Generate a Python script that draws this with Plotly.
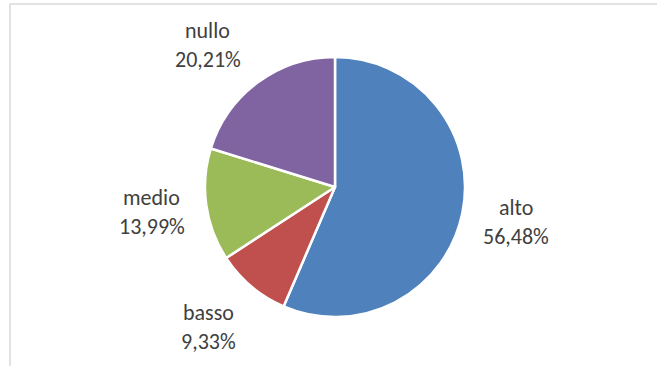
import math
import plotly.graph_objects as go

categories = ["alto", "basso", "medio", "nullo"]
values = [56.48, 9.33, 13.99, 20.21]
pct_labels = ["56,48%", "9,33%", "13,99%", "20,21%"]
colors = ["#4F81BD", "#C0504D", "#9BBB59", "#8064A2"]

W, H = 657, 366
cx, cy, R = 335, 187, 130  # pie centre / radius in pixels
label_dist = 1.44 * R
nudges = [(-2, -3), (-6, -3), (2, -1), (-16, 9)]  # small pixel nudges like Excel best-fit

fig = go.Figure()
fig.add_trace(go.Pie(
    labels=categories,
    values=values,
    sort=False,
    direction="clockwise",
    rotation=0,
    marker=dict(colors=colors, line=dict(color="white", width=2.5)),
    textinfo="none",
    hoverinfo="label+percent",
    showlegend=False,
    domain=dict(x=[(cx - R) / W, (cx + R) / W],
                y=[(H - cy - R) / H, (H - cy + R) / H]),
))

font = dict(family="Calibri, Carlito, Lato, sans-serif", size=22, color="#404040")
total = sum(values)
cum = 0.0
annotations = []
for i, (name, pct, v) in enumerate(zip(categories, pct_labels, values)):
    mid = (cum + v / 2) / total * 2 * math.pi
    cum += v
    sx = cx + label_dist * math.sin(mid) + nudges[i][0]
    sy = cy - label_dist * math.cos(mid) + nudges[i][1]
    for txt, dy in ((name, -14.5), (pct, 14.5)):
        annotations.append(dict(
            x=sx / W, y=1 - (sy + dy) / H, xref="paper", yref="paper",
            text=txt, showarrow=False, xanchor="center", yanchor="middle",
            font=font,
        ))

fig.update_layout(
    width=W, height=H,
    margin=dict(l=0, r=0, t=0, b=0),
    paper_bgcolor="white",
    plot_bgcolor="white",
    annotations=annotations,
    shapes=[dict(type="rect", xref="paper", yref="paper",
                 x0=10 / W, x1=1.02, y0=-0.02, y1=1 - 4 / H,
                 line=dict(color="#D9D9D9", width=1.5), fillcolor="rgba(0,0,0,0)")],
)

fig.write_html("out.html")
